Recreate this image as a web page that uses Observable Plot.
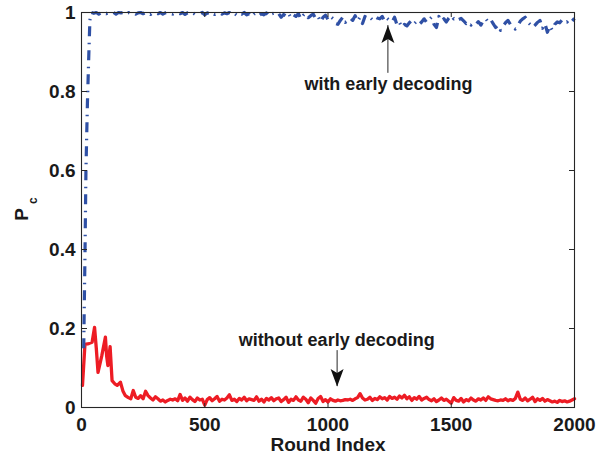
<!DOCTYPE html>
<html><head><meta charset="utf-8">
<script src="https://cdn.jsdelivr.net/npm/d3@7"></script>
<script src="https://cdn.jsdelivr.net/npm/@observablehq/plot@0.6"></script>
<style>body{margin:0;background:#fff} svg{display:block}</style>
</head><body><div id="chart"></div>
<script>
// ---- data ----
const xTicks = [0, 500, 1000, 1500, 2000];
const xTickLabels = ["0", "500", "1000", "1500", "2000"];
const yTicks = [0, 0.2, 0.4, 0.6, 0.8, 1];
const yTickLabels = ["0", "0.2", "0.4", "0.6", "0.8", "1"];
const xLabel = "Round Index";

// without early decoding (red)
const redEarlyRounds = [4, 14, 30, 43, 53, 60, 67, 82, 97, 102, 107, 116, 124, 135, 145, 158, 168, 178, 190];
const redEarlyValues = [0.056, 0.16, 0.162, 0.165, 0.203, 0.15, 0.089, 0.13, 0.178, 0.13, 0.106, 0.154, 0.068, 0.06, 0.056, 0.064, 0.042, 0.03, 0.025];
const redLateRounds = d3.range(200, 2001, 10);
const redLateValues = [
  0.022, 0.043, 0.026, 0.023, 0.030, 0.022, 0.041, 0.030, 0.024, 0.019,
  0.027, 0.022, 0.016, 0.019, 0.014, 0.018, 0.021, 0.019, 0.022, 0.017,
  0.033, 0.018, 0.024, 0.016, 0.026, 0.020, 0.015, 0.024, 0.019, 0.021,
  0.006, 0.020, 0.025, 0.017, 0.022, 0.028, 0.016, 0.021, 0.019, 0.024,
  0.032, 0.018, 0.021, 0.015, 0.023, 0.019, 0.026, 0.017, 0.022, 0.020,
  0.018, 0.027, 0.016, 0.021, 0.014, 0.023, 0.019, 0.025, 0.017, 0.022,
  0.024, 0.015, 0.020, 0.026, 0.013, 0.021, 0.018, 0.027, 0.019, 0.016,
  0.026, 0.021, 0.012, 0.024, 0.018, 0.011, 0.023, 0.028, 0.015, 0.020,
  0.014, 0.022, 0.018, 0.016, 0.019, 0.017, 0.018, 0.020, 0.019, 0.021,
  0.018, 0.022, 0.025, 0.035, 0.024, 0.019, 0.021, 0.026, 0.018, 0.023,
  0.020, 0.027, 0.022, 0.025, 0.019, 0.028, 0.023, 0.026, 0.021, 0.029,
  0.024, 0.031, 0.022, 0.027, 0.018, 0.025, 0.021, 0.028, 0.019, 0.023,
  0.026, 0.020, 0.017, 0.022, 0.015, 0.019, 0.024, 0.018, 0.021, 0.016,
  0.011, 0.025, 0.018, 0.016, 0.023, 0.014, 0.020, 0.017, 0.024, 0.019,
  0.016, 0.022, 0.019, 0.024, 0.018, 0.027, 0.022, 0.020, 0.018, 0.017,
  0.019, 0.018, 0.022, 0.017, 0.020, 0.018, 0.023, 0.039, 0.021, 0.018,
  0.024, 0.017, 0.021, 0.026, 0.015, 0.022, 0.018, 0.023, 0.016, 0.020,
  0.017, 0.014, 0.016, 0.013, 0.018, 0.015, 0.017, 0.014, 0.016, 0.019,
  0.022
];

// with early decoding (blue)
const blueEarlyRounds = [9, 10, 14, 18, 24, 30, 34];
const blueEarlyValues = [0.15, 0.2, 0.38, 0.6, 0.77, 0.9, 0.98];
const blueLateRounds = d3.range(40, 2001, 10);
const blueLateValues = [
  1.000, 0.998, 1.000, 0.996, 1.000, 0.999, 0.997, 1.000, 0.998, 1.000, 0.996, 1.000, 0.999, 1.000, 0.997, 1.000,
  0.998, 1.000, 0.996, 0.999, 1.000, 0.997, 1.000, 0.998, 0.995, 1.000, 0.999, 0.997, 1.000, 0.996, 0.999, 1.000, 0.998, 0.996, 1.000, 0.999,
  0.997, 1.000, 0.995, 0.999, 0.998, 1.000, 0.996, 0.999, 0.997, 1.000, 0.994, 0.999, 0.997, 1.000, 0.995, 0.998, 1.000, 0.996, 0.999, 0.997,
  1.000, 0.995, 0.998, 0.993, 0.999, 0.996, 1.000, 0.994, 0.997, 0.990, 0.996, 0.999, 0.992, 0.997, 0.994, 0.999, 0.991, 0.996, 0.998, 0.993,
  0.997, 0.988, 0.995, 0.991, 0.998, 0.986, 0.994, 0.990, 0.997, 0.984, 0.993, 0.998, 0.987, 0.992, 0.996, 0.985, 0.990, 0.976, 0.988, 0.993,
  0.982, 0.990, 0.985, 0.972, 0.970, 0.980, 0.988, 0.975, 0.979, 0.986, 0.980, 0.992, 0.978, 0.988, 0.972, 0.990, 0.985, 0.988, 0.982, 0.990,
  0.986, 0.984, 0.990, 0.978, 0.985, 0.980, 0.976, 0.988, 0.968, 0.975, 0.962, 0.970, 0.966, 0.974, 0.980, 0.972, 0.978, 0.970, 0.976, 0.984,
  0.975, 0.982, 0.988, 0.970, 0.962, 0.990, 0.978, 0.984, 0.976, 0.986, 0.992, 0.984, 0.988, 0.982, 0.985, 0.979, 0.972, 0.976, 0.968, 0.974,
  0.970, 0.977, 0.968, 0.980, 0.984, 0.976, 0.982, 0.972, 0.962, 0.968, 0.955, 0.966, 0.974, 0.980, 0.970, 0.962, 0.958, 0.966, 0.978, 0.984,
  0.988, 0.976, 0.970, 0.962, 0.968, 0.975, 0.980, 0.960, 0.972, 0.950, 0.966, 0.955, 0.970, 0.976, 0.974, 0.982, 0.980, 0.976, 0.984, 0.978,
  0.985
];

// annotations
const annoLabels = ["with early decoding", "without early decoding"];
const annoTextX = [1245, 1035];
const annoTextY = [0.8185, 0.1696];
const arrowX = [1243, 1037];
const arrowFrom = [0.846, 0.144];
const arrowTo = [0.967, 0.053];
const arrowRotate = [0, 180];

// ---- build ----
const red = [...redEarlyRounds, ...redLateRounds].map((r, i) => ({r, v: [...redEarlyValues, ...redLateValues][i]}));
const blue = [...blueEarlyRounds, ...blueLateRounds].map((r, i) => ({r, v: [...blueEarlyValues, ...blueLateValues][i]}));
const annos = annoLabels.map((t, i) => ({t, x: annoTextX[i], y: annoTextY[i]}));
const arrows = arrowX.map((x, i) => ({x, y1: arrowFrom[i], y2: arrowTo[i], rot: arrowRotate[i]}));

const W = 598, H = 454, mL = 81, mR = 24, mT = 12, mB = 47;
const frameW = W - mL - mR, frameH = H - mT - mB;
const ink = "#262626";
const font = "'Liberation Sans', Arial, Helvetica, sans-serif";

// MATLAB-like notched arrowhead, tip at origin pointing up
const arrowHead = {
  draw(ctx) {
    ctx.moveTo(0, 0);
    ctx.lineTo(6.5, 17.5);
    ctx.lineTo(0, 13.5);
    ctx.lineTo(-6.5, 17.5);
    ctx.closePath();
  }
};

const chart = Plot.plot({
  width: W, height: H,
  marginLeft: mL, marginRight: mR, marginTop: mT, marginBottom: mB,
  style: {fontFamily: font, fontWeight: "bold", color: ink, background: "white", overflow: "visible"},
  x: {domain: [0, 2000]},
  y: {domain: [0, 1]},
  marks: [
    Plot.line(red, {x: "r", y: "v", stroke: "#ed1c24", strokeWidth: 3.3, strokeLinejoin: "round"}),
    Plot.line(blue, {x: "r", y: "v", stroke: "#2f50a5", strokeWidth: 3.2, strokeDasharray: "10,6,1.5,6.5", strokeLinecap: "butt", strokeLinejoin: "round"}),
    Plot.ruleX(arrows, {x: "x", y1: "y1", y2: "y2", stroke: ink, strokeWidth: 1}),
    Plot.dot(arrows, {x: "x", y: "y2", symbol: arrowHead, rotate: "rot", fill: "#111", stroke: "none", r: 5}),
    Plot.text(annos, {x: "x", y: "y", text: "t", fontSize: 18, fontWeight: "bold", fill: "#1a1a1a", lineAnchor: "middle"}),
    Plot.frame({stroke: ink, strokeWidth: 1.1}),
    // tick labels
    Plot.axisX(xTicks, {anchor: "bottom", tickSize: 0, tickPadding: 10, tickFormat: d => xTickLabels[xTicks.indexOf(d)], fontSize: 19, fontWeight: "bold", fill: "#1a1a1a", label: null}),
    Plot.axisY(yTicks, {anchor: "left", tickSize: 0, tickPadding: 6, tickFormat: d => yTickLabels[yTicks.indexOf(d)], fontSize: 19, fontWeight: "bold", fill: "#1a1a1a", label: null}),
    // inward ticks on all four sides
    Plot.axisX(xTicks, {anchor: "top", tickSize: 5, dy: frameH, tickFormat: () => "", label: null, stroke: ink}),
    Plot.axisX(xTicks, {anchor: "bottom", tickSize: 5, dy: -frameH, tickFormat: () => "", label: null, stroke: ink}),
    Plot.axisY(yTicks, {anchor: "right", tickSize: 5, dx: -frameW, tickFormat: () => "", label: null, stroke: ink}),
    Plot.axisY(yTicks, {anchor: "left", tickSize: 5, dx: frameW, tickFormat: () => "", label: null, stroke: ink}),
    // x label
    Plot.text([xLabel], {frameAnchor: "bottom", dy: 37, text: d => d, fontSize: 19, fontWeight: "bold", fill: "#1a1a1a", lineAnchor: "middle"})
  ]
});

// y label P_c (subscript)
const svg = d3.select(chart);
const yl = svg.append("text")
  .attr("transform", "translate(28,209) rotate(-90)")
  .attr("text-anchor", "middle")
  .attr("font-family", font)
  .attr("font-weight", "bold")
  .attr("font-size", 19)
  .attr("fill", "#1a1a1a");
yl.append("tspan").text("P");
yl.append("tspan").attr("font-size", 12).attr("dx", 4).attr("dy", 9).text("c");

document.getElementById("chart").appendChild(chart);
</script>
</body></html>
